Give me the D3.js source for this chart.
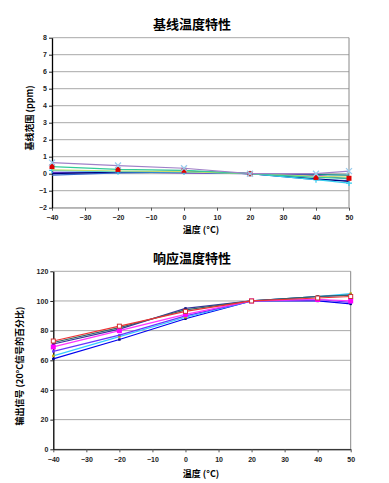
<!DOCTYPE html>
<html>
<head>
<meta charset="utf-8">
<script src="https://cdn.jsdelivr.net/npm/d3@7"></script>
<style>
  body { margin: 0; background: #fff; }
  text { font-family: "Liberation Sans", Arial, sans-serif; }
  .cjk { font-family: "Noto Sans CJK SC", sans-serif; }
</style>
</head>
<body>
<svg id="chart" width="389" height="483"></svg>
<script>
// temperatures (°C) where readings were taken
const temps = [-40, -20, 0, 20, 40, 50];
const xTicks = [-40, -30, -20, -10, 0, 10, 20, 30, 40, 50];

// baseline drift (ppm), one array per sensor
const baseA = [0.65, 0.48, 0.32, 0, 0.0, 0.15];
const baseB = [0.42, 0.25, 0.20, 0, -0.22, -0.27];
const baseC = [0.22, 0.16, 0.12, 0, -0.15, -0.20];
const baseD = [0.20, 0.12, 0.10, 0, -0.35, -0.55];
const baseE = [0.00, 0.10, 0.15, 0, -0.30, -0.45];
const baseF = [-0.08, 0.05, 0.10, 0, -0.35, -0.40];
const baseG = [0.08, 0.10, 0.05, 0, -0.10, -0.30];
const baseH = [0.05, 0.10, 0.12, 0, -0.05, -0.08];
const baseTicks = [-2, -1, 0, 1, 2, 3, 4, 5, 6, 7, 8];

// response (% of 20°C signal), one array per sensor
const respA = [73, 83, 93, 100, 102, 103];
const respB = [72, 82, 94, 100, 103, 104];
const respC = [71, 81, 95, 100, 103, 104];
const respD = [69, 80, 91, 100, 101, 100];
const respE = [66, 77, 90, 100, 101, 99];
const respF = [63, 76, 89, 100, 103, 105];
const respG = [61, 74, 88, 100, 100, 98];
const respTicks = [0, 20, 40, 60, 80, 100, 120];

const baseSeries = [
  {v: baseH, color: '#008080', mark: null},
  {v: baseG, color: '#6633cc', mark: null},
  {v: baseF, color: '#3366cc', mark: null},
  {v: baseE, color: '#000080', mark: null},
  {v: baseD, color: '#33ccee', mark: 'plus', mcolor: '#33ccee'},
  {v: baseC, color: '#ccdd66', mark: null},
  {v: baseB, color: '#33cc99', mark: 'square', mcolor: '#dd0000'},
  {v: baseA, color: '#a080c8', mark: 'cross', mcolor: '#99ccee'}
];

const respSeries = [
  {v: respG, color: '#0000ee', mark: 'dot', mcolor: '#000080'},
  {v: respF, color: '#33ccff', mark: 'dot', mcolor: '#ccaa00'},
  {v: respE, color: '#6633ff', mark: 'dot', mcolor: '#6633ff'},
  {v: respC, color: '#333399', mark: 'dot', mcolor: '#000080'},
  {v: respB, color: '#336666', mark: 'dot', mcolor: '#336666'},
  {v: respD, color: '#ff33ff', mark: 'square', mcolor: '#ff00ff'},
  {v: respA, color: '#ee3333', mark: 'osquare', mcolor: '#cc3333'}
];

const svg = d3.select('#chart');

function drawPanel(opt) {
  const x = d3.scaleLinear().domain([-40, 50]).range(opt.xr);
  const y = d3.scaleLinear().domain(opt.yd).range(opt.yr);
  const g = svg.append('g');

  g.append('text')
    .attr('class', 'cjk')
    .attr('x', 192).attr('y', opt.titleY)
    .attr('text-anchor', 'middle')
    .style('font-size', '13px').style('font-weight', 'bold')
    .text(opt.title);

  // gridlines
  g.selectAll('line.grid')
    .data(opt.ticks)
    .enter().append('line')
    .attr('x1', opt.xr[0]).attr('x2', opt.xr[1])
    .attr('y1', d => y(d)).attr('y2', d => y(d))
    .attr('stroke', '#a8a8a8')
    .attr('stroke-width', 1);

  // right border
  g.append('line')
    .attr('x1', opt.xr[1]).attr('x2', opt.xr[1])
    .attr('y1', opt.yr[0]).attr('y2', opt.yr[1])
    .attr('stroke', '#888').attr('stroke-width', 1);

  const xAxis = g.append('g')
    .attr('transform', `translate(0,${opt.yr[0]})`)
    .call(d3.axisBottom(x).tickValues(xTicks).tickSize(3).tickSizeOuter(0));
  xAxis.select('.domain').attr('stroke', opt.xAxisColor);
  xAxis.selectAll('line').attr('stroke', '#555');
  xAxis.selectAll('text')
    .attr('fill', '#222').attr('dy', '0.95em')
    .style('font-size', '7px').style('font-weight', 'bold');

  const yAxis = g.append('g')
    .attr('transform', `translate(${opt.xr[0]},0)`)
    .call(d3.axisLeft(y).tickValues(opt.ticks).tickSize(3).tickSizeOuter(0));
  yAxis.select('.domain').attr('stroke', '#000').attr('stroke-width', 1.3);
  yAxis.selectAll('line').attr('stroke', '#222');
  yAxis.selectAll('text')
    .attr('fill', '#222').attr('x', -5)
    .style('font-size', '7px').style('font-weight', 'bold');

  g.append('text')
    .attr('class', 'cjk')
    .attr('x', 201).attr('y', opt.xTitleY)
    .attr('text-anchor', 'middle')
    .style('font-size', '9px').style('font-weight', 'bold')
    .text('温度 (°C)');

  g.append('text')
    .attr('class', 'cjk')
    .attr('transform', `translate(${opt.yTitleX},${opt.yTitleY}) rotate(-90)`)
    .attr('text-anchor', 'middle')
    .style('font-size', '9px').style('font-weight', 'bold')
    .text(opt.yTitle);

  const line = d3.line()
    .x((d, i) => x(temps[i]))
    .y(d => y(d));

  const s = g.selectAll('g.series')
    .data(opt.series)
    .enter().append('g');

  s.append('path')
    .attr('d', d => line(d.v))
    .attr('fill', 'none')
    .attr('stroke', d => d.color)
    .attr('stroke-width', 1.2);

  s.each(function(d) {
    if (!d.mark) return;
    const pts = d3.select(this).selectAll('.m')
      .data(d.v.map((v, i) => [temps[i], v]))
      .enter();
    if (d.mark === 'square') {
      pts.append('rect')
        .attr('x', p => x(p[0]) - 2.5).attr('y', p => y(p[1]) - 2.5)
        .attr('width', 5).attr('height', 5)
        .attr('fill', d.mcolor);
    } else if (d.mark === 'osquare') {
      pts.append('rect')
        .attr('x', p => x(p[0]) - 2).attr('y', p => y(p[1]) - 2)
        .attr('width', 4).attr('height', 4)
        .attr('fill', '#fff').attr('stroke', d.mcolor).attr('stroke-width', 1);
    } else if (d.mark === 'dot') {
      pts.append('rect')
        .attr('x', p => x(p[0]) - 1.2).attr('y', p => y(p[1]) - 1.2)
        .attr('width', 2.4).attr('height', 2.4)
        .attr('fill', d.mcolor);
    } else if (d.mark === 'cross') {
      pts.append('path')
        .attr('d', p => {
          const cx = x(p[0]), cy = y(p[1]);
          return `M${cx-3},${cy-3}L${cx+3},${cy+3}M${cx-3},${cy+3}L${cx+3},${cy-3}`;
        })
        .attr('stroke', d.mcolor).attr('stroke-width', 1.3);
    } else if (d.mark === 'plus') {
      pts.append('path')
        .attr('d', p => {
          const cx = x(p[0]), cy = y(p[1]);
          return `M${cx-3},${cy}L${cx+3},${cy}M${cx},${cy-3}L${cx},${cy+3}`;
        })
        .attr('stroke', d.mcolor).attr('stroke-width', 1.2);
    }
  });
}

drawPanel({
  title: '基线温度特性', titleY: 29,
  xr: [52, 349], yd: [-2, 8], yr: [207.7, 37.7],
  ticks: baseTicks, series: baseSeries,
  xAxisColor: '#a8a8a8',
  xTitleY: 233,
  yTitle: '基线范围 (ppm)', yTitleX: 33, yTitleY: 118
});

drawPanel({
  title: '响应温度特性', titleY: 263,
  xr: [53.3, 350.7], yd: [0, 120], yr: [449.3, 271.3],
  ticks: respTicks, series: respSeries,
  xAxisColor: '#000',
  xTitleY: 477,
  yTitle: '输出信号 (20°C信号的百分比)', yTitleX: 23, yTitleY: 366
});
</script>
</body>
</html>
